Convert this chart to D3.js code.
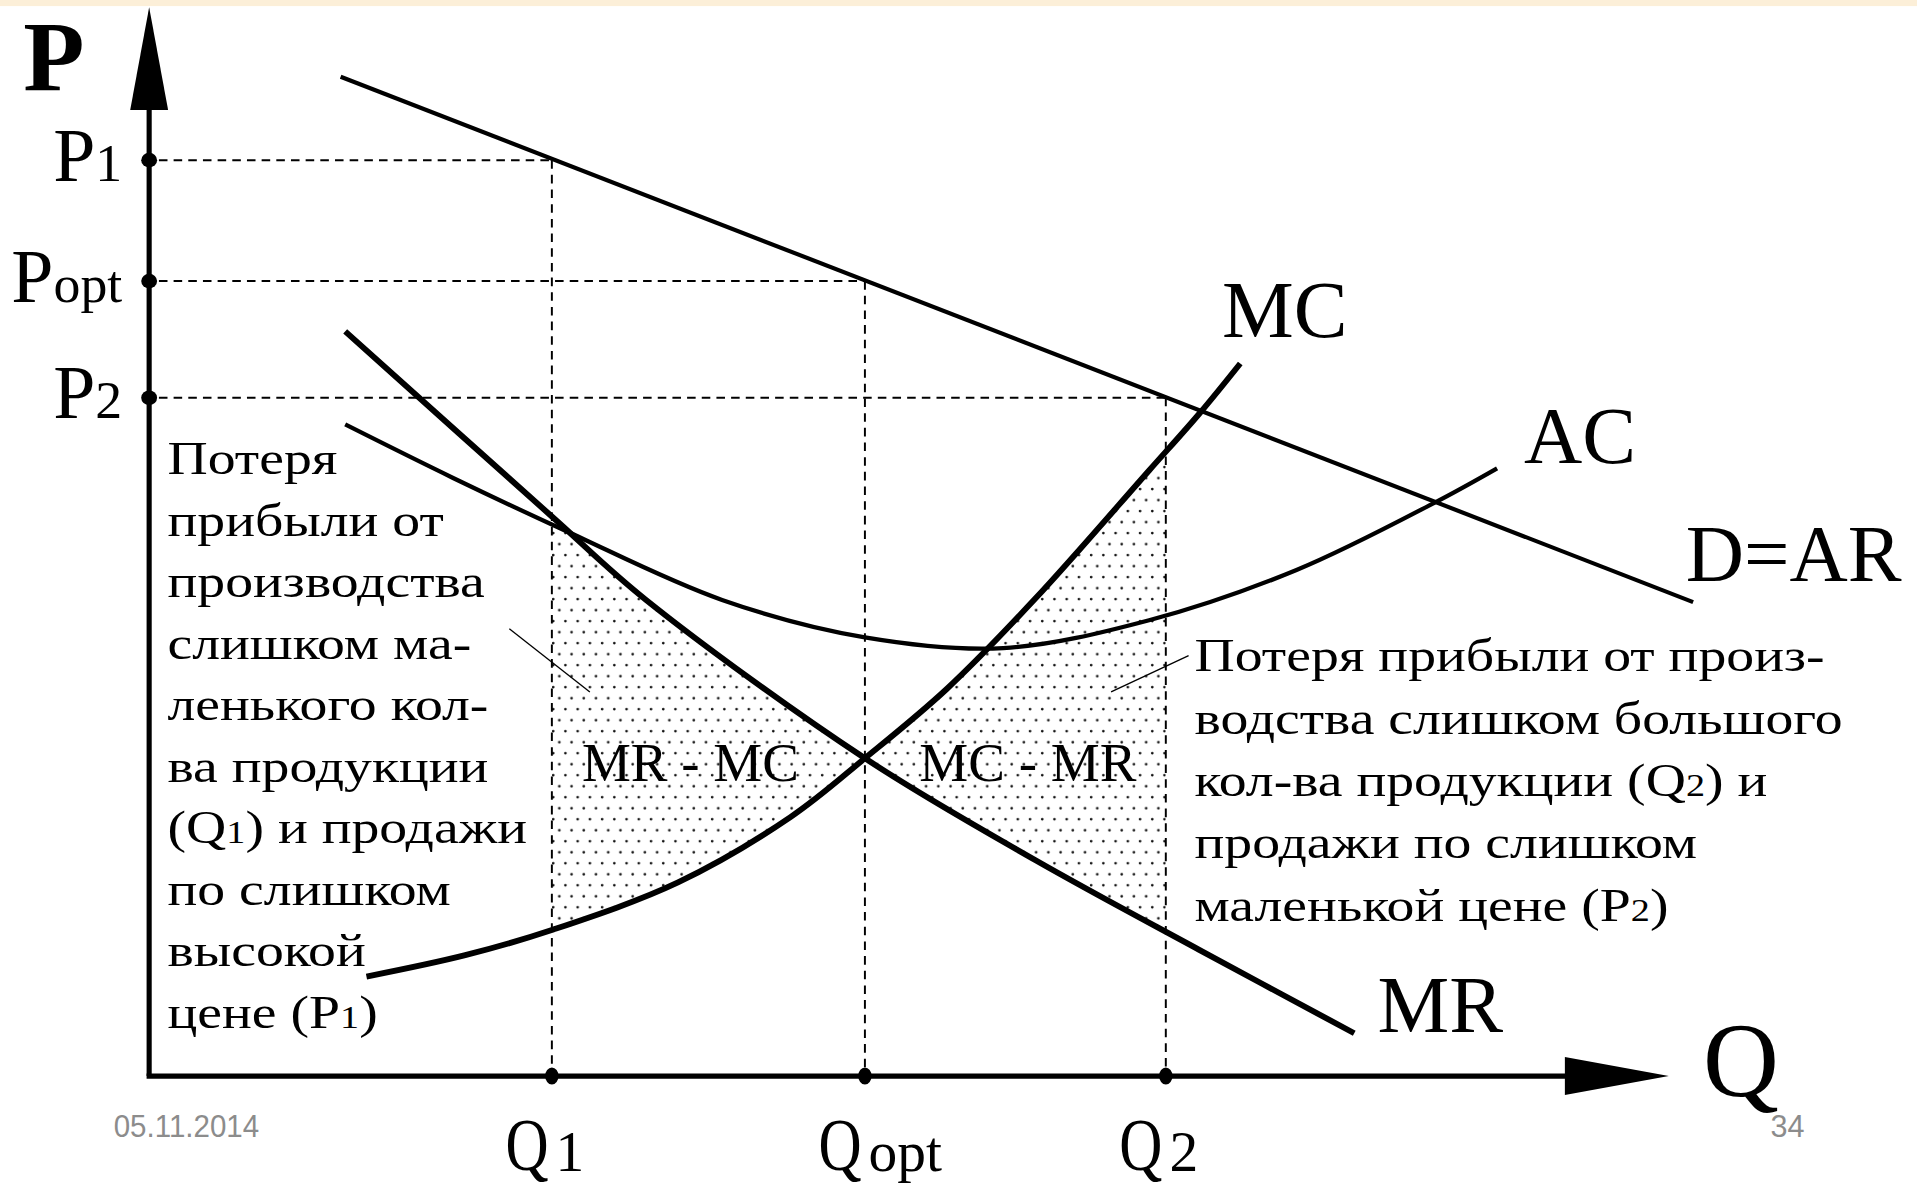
<!DOCTYPE html>
<html>
<head>
<meta charset="utf-8">
<script src="https://cdnjs.cloudflare.com/ajax/libs/d3/7.8.5/d3.min.js"></script>
<style>
  html, body { margin: 0; padding: 0; background: #fff; overflow: hidden; }
  svg { display: block; }
  text { font-family: "Liberation Serif", "Times New Roman", serif; fill: #000; }
</style>
</head>
<body>
<svg id="chart"></svg>
<script>
// marked quantities and prices
const qTicks = [26.5, 47.1, 66.9];
const qTickLabels = [["Q", "1"], ["Q", "opt"], ["Q", "2"]];
const pTicks = [85.6, 74.3, 63.4];
const pTickLabels = [["P", "1"], ["P", "opt"], ["P", "2"]];

// curves as [Q, P] points
const demand = [[12.6, 93.4], [101.6, 44.3]];
const mr = [[12.9, 69.6], [26.5, 52.3], [32.7, 44.5], [47.1, 29.7], [58.3, 20.2], [69.1, 11.8], [79.3, 4.0]];
const mc = [[14.3, 9.3], [20.8, 11.3], [26.6, 13.7], [34.8, 18.1], [42.2, 24.2], [47.1, 29.7],
            [52.5, 36.2], [58.3, 44.6], [65.8, 56.6], [69.1, 61.9], [71.8, 66.6]];
const ac = [[12.9, 60.9], [20.0, 55.9], [27.5, 50.9], [37.7, 44.5], [47.1, 41.0], [56.2, 40.0],
            [65.8, 42.6], [75.5, 47.3], [84.6, 53.6], [88.7, 56.8]];

// thin leader lines from the notes into the shaded areas
const leaders = [[[23.7, 41.8], [29.0, 35.9]], [[63.3, 35.9], [68.4, 39.3]]];

const leftNote = ["Потеря", "прибыли от", "производства", "слишком ма-", "ленького кол-",
                  "ва продукции", "(Q_1) и продажи", "по слишком", "высокой", "цене (P_1)"];
const rightNote = ["Потеря прибыли от произ-", "водства слишком большого",
                   "кол-ва продукции (Q_2) и", "продажи по слишком", "маленькой цене (P_2)"];

const W = 1568, H = 974;

const svg = d3.select("#chart")
    .attr("width", 1917)
    .attr("height", 1191)
    .attr("viewBox", `0 0 ${W} ${H}`)
    .attr("preserveAspectRatio", "none");

const x = d3.scaleLinear().domain([0, 100]).range([122, 1365]);
const y = d3.scaleLinear().domain([0, 100]).range([880, 5]);

const line = d3.line()
    .x(d => x(d[0]))
    .y(d => y(d[1]))
    .curve(d3.curveCatmullRom.alpha(0.5));

// closed shape: curve, then down (or up) to edgeY
function sidePath(pts, edgeY) {
    const a = pts[0], b = pts[pts.length - 1];
    return line(pts) + `L${x(b[0])},${edgeY}L${x(a[0])},${edgeY}Z`;
}

// rich text with small subscript after "_"
function richText(sel, str, subSize) {
    str.split(/_(\w+)/).forEach((part, i) => {
        const t = sel.append("tspan").text(part);
        if (i % 2 === 1) t.attr("font-size", subSize);
    });
}

const defs = svg.append("defs");
const dots = defs.append("pattern")
    .attr("id", "dots")
    .attr("patternUnits", "userSpaceOnUse")
    .attr("width", 10)
    .attr("height", 18);
[[2.5, 4], [7.5, 13]].forEach(([cx, cy]) => {
    dots.append("circle").attr("cx", cx).attr("cy", cy).attr("r", 1.1).attr("fill", "#111");
});

[["belowMR", mr, H + 50], ["aboveMR", mr, -50], ["belowMC", mc, H + 50], ["aboveMC", mc, -50]]
    .forEach(([id, pts, edge]) => {
        defs.append("clipPath").attr("id", id).append("path").attr("d", sidePath(pts, edge));
    });

// beige strip at the top of the slide
svg.append("rect").attr("x", 0).attr("y", 0).attr("width", W).attr("height", 5).attr("fill", "#fcefd8");

// shaded losses
const [q1, qOpt, q2] = qTicks;
svg.append("g").attr("clip-path", "url(#belowMR)")
    .append("g").attr("clip-path", "url(#aboveMC)")
    .append("rect")
    .attr("x", x(q1)).attr("y", 0)
    .attr("width", x(qOpt) - x(q1)).attr("height", H)
    .attr("fill", "url(#dots)");
svg.append("g").attr("clip-path", "url(#aboveMR)")
    .append("g").attr("clip-path", "url(#belowMC)")
    .append("rect")
    .attr("x", x(qOpt)).attr("y", 0)
    .attr("width", x(q2) - x(qOpt)).attr("height", H)
    .attr("fill", "url(#dots)");

// dashed guides
const guides = svg.append("g")
    .attr("stroke", "#000")
    .attr("stroke-width", 1.6)
    .attr("stroke-dasharray", "7,5")
    .attr("fill", "none");
qTicks.forEach((q, i) => {
    const p = pTicks[i];
    guides.append("line").attr("x1", x(0) + 8).attr("y1", y(p)).attr("x2", x(q)).attr("y2", y(p));
    guides.append("line").attr("x1", x(q)).attr("y1", y(p)).attr("x2", x(q)).attr("y2", y(0));
});

// curves
const curves = [
    { pts: demand, w: 3.4, label: "D=AR", dx: -6, dy: -17 },
    { pts: ac, w: 3.5, label: "AC", dx: 22, dy: -4 },
    { pts: mr, w: 4.8, label: "MR", dx: 19, dy: -1 },
    { pts: mc, w: 4.8, label: "MC", dx: -15, dy: -22 }
];
curves.forEach(c => {
    svg.append("path")
        .attr("d", line(c.pts))
        .attr("fill", "none")
        .attr("stroke", "#000")
        .attr("stroke-width", c.w);
    const end = c.pts[c.pts.length - 1];
    svg.append("text")
        .attr("x", x(end[0]) + c.dx)
        .attr("y", y(end[1]) + c.dy)
        .attr("font-size", 66)
        .text(c.label);
});

// leader lines
leaders.forEach(l => {
    svg.append("line")
        .attr("x1", x(l[0][0])).attr("y1", y(l[0][1]))
        .attr("x2", x(l[1][0])).attr("y2", y(l[1][1]))
        .attr("stroke", "#000").attr("stroke-width", 1.1);
});

// axes with arrowheads
const axes = svg.append("g");
axes.append("line")
    .attr("x1", x(0)).attr("y1", y(0)).attr("x2", x(0)).attr("y2", 40)
    .attr("stroke", "#000").attr("stroke-width", 4.2);
axes.append("line")
    .attr("x1", x(0) - 2.1).attr("y1", y(0)).attr("x2", 1300).attr("y2", y(0))
    .attr("stroke", "#000").attr("stroke-width", 4.2);
axes.append("path")
    .attr("d", `M${x(0)},6L${x(0) + 15.5},90L${x(0) - 15.5},90Z`)
    .attr("fill", "#000");
axes.append("path")
    .attr("d", `M${x(100)},${y(0)}L1280,${y(0) - 15.5}L1280,${y(0) + 15.5}Z`)
    .attr("fill", "#000");

// tick dots
axes.selectAll(".qdot").data(qTicks).join("ellipse")
    .attr("cx", d => x(d)).attr("cy", y(0)).attr("rx", 5.5).attr("ry", 7).attr("fill", "#000");
axes.selectAll(".pdot").data(pTicks).join("ellipse")
    .attr("cx", x(0)).attr("cy", d => y(d)).attr("rx", 6.5).attr("ry", 6).attr("fill", "#000");

// axis titles
svg.append("text").attr("x", 19).attr("y", 74).attr("font-size", 82).attr("font-weight", "bold").text("P");
svg.append("text").attr("x", 1393).attr("y", 896).attr("font-size", 86).text("Q");

// tick labels
pTicks.forEach((p, i) => {
    const t = svg.append("text")
        .attr("x", 100).attr("y", y(p) + 17)
        .attr("text-anchor", "end")
        .attr("font-size", 62);
    t.append("tspan").text(pTickLabels[i][0]);
    t.append("tspan").attr("font-size", 44).text(pTickLabels[i][1]);
});
qTicks.forEach((q, i) => {
    svg.append("text")
        .attr("transform", `translate(${x(q) - 38},957) scale(0.8,1)`)
        .attr("font-size", 61)
        .text(qTickLabels[i][0]);
    svg.append("text")
        .attr("x", x(q) + 3).attr("y", 958)
        .attr("font-size", 47)
        .text(qTickLabels[i][1]);
});

// region labels
svg.append("text").attr("x", 476).attr("y", 639).attr("font-size", 45).text("MR - MC");
svg.append("text").attr("x", 752).attr("y", 639).attr("font-size", 45).text("MC - MR");

// notes
const ln = svg.append("g").attr("transform", "translate(137,388) scale(1.2,1)");
leftNote.forEach((s, i) => {
    richText(ln.append("text").attr("x", 0).attr("y", i * 50.3).attr("font-size", 38), s, 26);
});
const rn = svg.append("g").attr("transform", "translate(977,549) scale(1.2,1)");
rightNote.forEach((s, i) => {
    richText(rn.append("text").attr("x", 0).attr("y", i * 51).attr("font-size", 38), s, 26);
});

// slide footer
const footFont = "'Liberation Sans Narrow', 'Liberation Sans', 'DejaVu Sans Condensed', sans-serif";
svg.append("text")
    .attr("x", 93).attr("y", 930)
    .attr("font-size", 25)
    .attr("textLength", 119)
    .attr("lengthAdjust", "spacingAndGlyphs")
    .style("font-family", footFont)
    .style("fill", "#8c8c8c")
    .text("05.11.2014");
svg.append("text")
    .attr("x", 1476).attr("y", 930)
    .attr("text-anchor", "end")
    .attr("font-size", 25)
    .style("font-family", footFont)
    .style("fill", "#8c8c8c")
    .text("34");
</script>
</body>
</html>
